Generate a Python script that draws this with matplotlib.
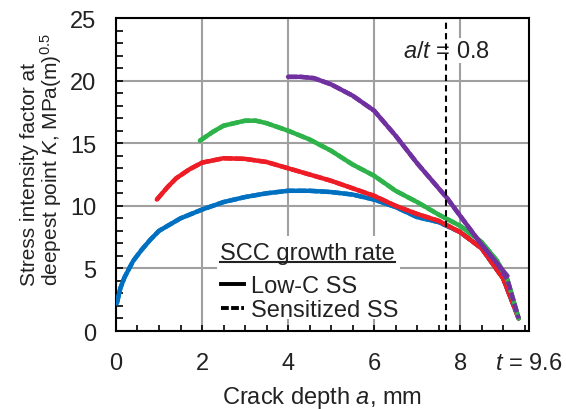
import matplotlib
matplotlib.use("Agg")
import matplotlib.pyplot as plt
from matplotlib.lines import Line2D
from matplotlib.patches import Rectangle
from matplotlib.transforms import offset_copy

plt.rcParams['font.family'] = ['Liberation Sans', 'DejaVu Sans']
plt.rcParams['mathtext.fontset'] = 'custom'
plt.rcParams['mathtext.it'] = 'Liberation Sans:italic'
plt.rcParams['mathtext.rm'] = 'Liberation Sans'

# Crack depth a (mm) and stress intensity factor K (MPa m^0.5), Low-C SS
a_blue = [0.02, 0.1, 0.2, 0.4, 0.6, 0.8, 1.0, 1.5, 2.0, 2.5, 3.0, 3.5, 4.0, 4.5,
          5.0, 5.5, 6.0, 6.5, 7.0, 7.5, 8.0, 8.5, 9.0, 9.36]
k_blue = [2.2, 3.4, 4.3, 5.6, 6.5, 7.3, 8.0, 9.0, 9.7, 10.3, 10.7, 11.0, 11.2, 11.2,
          11.1, 10.9, 10.5, 9.9, 9.1, 8.7, 7.9, 6.6, 4.2, 1.0]

a_red = [0.95, 1.2, 1.4, 1.7, 2.0, 2.5, 3.0, 3.5, 4.0, 4.5, 5.0, 5.5, 6.0, 6.5,
         7.0, 7.5, 8.0, 8.5, 9.0, 9.36]
k_red = [10.5, 11.5, 12.2, 12.9, 13.45, 13.8, 13.75, 13.5, 13.0, 12.5, 12.0, 11.4,
         10.8, 10.0, 9.35, 8.8, 7.9, 6.6, 4.2, 1.0]

a_green = [1.95, 2.25, 2.5, 3.0, 3.25, 3.5, 4.0, 4.5, 5.0, 5.5, 6.0, 6.5, 7.0, 7.5,
           8.0, 8.5, 8.86, 9.1, 9.36]
k_green = [15.2, 15.9, 16.4, 16.8, 16.8, 16.6, 16.0, 15.3, 14.4, 13.3, 12.4, 11.2,
           10.3, 9.3, 8.4, 7.1, 5.6, 4.1, 1.0]

a_purple = [4.0, 4.3, 4.6, 5.0, 5.5, 6.0, 6.5, 7.0, 7.5, 7.7, 8.0, 8.5, 8.86, 9.1]
k_purple = [20.3, 20.3, 20.2, 19.7, 18.8, 17.6, 15.6, 13.4, 11.4, 10.6, 9.2, 6.9,
            5.4, 4.4]

# Sensitized SS
a_purple_s = [4.0, 4.3, 4.6, 5.0, 5.5, 6.0, 6.5, 7.0, 7.5, 7.7, 8.0, 8.5, 8.86,
              9.1, 9.36]
k_purple_s = [20.3, 20.3, 20.2, 19.7, 18.8, 17.6, 15.6, 13.4, 11.4, 10.6, 9.2, 6.9,
              5.4, 4.1, 1.0]

colors = {'blue': '#0070C0', 'red': '#EE1C25', 'green': '#2DB34A', 'purple': '#7030A0'}

thickness = 9.6
a_over_t = 0.8

FS = 17
TXT = '#222222'

fig = plt.figure(figsize=(5.66, 4.10), dpi=100)
ax = fig.add_axes([0.2049, 0.1902, 0.7297, 0.7634])

lw = 3.2
dash = (0, (2.0, 0.6))
curves = [
    (a_blue, k_blue, a_blue, k_blue, colors['blue']),
    (a_red, k_red, a_red, k_red, colors['red']),
    (a_green, k_green, a_green, k_green, colors['green']),
    (a_purple, k_purple, a_purple_s, k_purple_s, colors['purple']),
]
for a_s, k_s, a_d, k_d, c in curves:
    ax.plot(a_s, k_s, color=c, lw=lw, solid_capstyle='round', zorder=3)
    ax.plot(a_d, k_d, color=c, lw=lw, ls=dash, zorder=3)

ax.axvline(a_over_t * thickness, color='black', lw=1.5, ls=(0, (3, 2)), zorder=4)

ax.set_xlim(0, thickness)
ax.set_ylim(0, 25)
ax.set_xticks([0, 2, 4, 6, 8])
ax.set_yticks([0, 5, 10, 15, 20, 25])
ax.set_xticks([i * 0.5 for i in range(20)], minor=True)
ax.set_yticks(list(range(26)), minor=True)
ax.grid(True, which='major', color='#A0A0A0', lw=1.5, zorder=0)
ax.set_axisbelow(True)

for s in ax.spines.values():
    s.set_linewidth(1.5)
    s.set_color('black')

ax.tick_params(axis='both', which='both', direction='in', labelsize=FS,
               color='black', labelcolor=TXT, width=1.2)
ax.tick_params(axis='x', which='both', length=4, pad=15)
ax.tick_params(axis='y', which='both', length=5, pad=14)

ax.set_xlabel('Crack depth $a$, mm', fontsize=FS, color=TXT)
ax.xaxis.set_label_coords(0.5, -0.168)
ax.set_ylabel('Stress intensity factor at\ndeepest point $K$, MPa(m)$^{0.5}$',
              fontsize=15, color=TXT, linespacing=0.95, multialignment='left')
ax.yaxis.set_label_coords(-0.125, 0.55)

ax.text(thickness, 0, '$t$ = 9.6', ha='center', va='top', fontsize=FS, color=TXT,
        transform=offset_copy(ax.get_xaxis_transform(), fig=fig, x=0, y=-15,
                              units='points'))

ax.text(6.67, 22.4, '$a$/$t$ = 0.8', fontsize=FS, ha='left', va='center',
        color=TXT, zorder=3,
        bbox=dict(facecolor='white', edgecolor='none', pad=1))

# legend: white patch, underlined heading and two line-style entries
ax.add_patch(Rectangle((0.2446, 0.038), 0.443, 0.265, transform=ax.transAxes,
                       facecolor='white', edgecolor='none', zorder=4.5))
title = ax.text(0.252, 0.25, 'SCC growth rate', transform=ax.transAxes,
                fontsize=FS, ha='left', va='center', color=TXT, zorder=6)

handles = [Line2D([], [], color='black', lw=2.8),
           Line2D([], [], color='black', lw=2.8, ls=(0, (2.0, 0.6)))]
leg = ax.legend(handles, ['Low-C SS', 'Sensitized SS'],
                loc='upper left', bbox_to_anchor=(0.245, 0.19), fontsize=FS,
                frameon=False, handlelength=1.0, handletextpad=0.3,
                borderpad=0.15, labelspacing=0.08, borderaxespad=0)
leg.set_zorder(6)
for t in leg.get_texts():
    t.set_color(TXT)

fig.canvas.draw()
bb = title.get_window_extent()
inv = fig.transFigure.inverted()
x0, y0 = inv.transform((bb.x0, bb.y0))
x1, _ = inv.transform((bb.x1, bb.y0))
fig.add_artist(Line2D([x0, x1], [y0 + 0.004, y0 + 0.004], transform=fig.transFigure,
                      color=TXT, lw=1.5, zorder=10))

fig.savefig('out.png', dpi=100)
